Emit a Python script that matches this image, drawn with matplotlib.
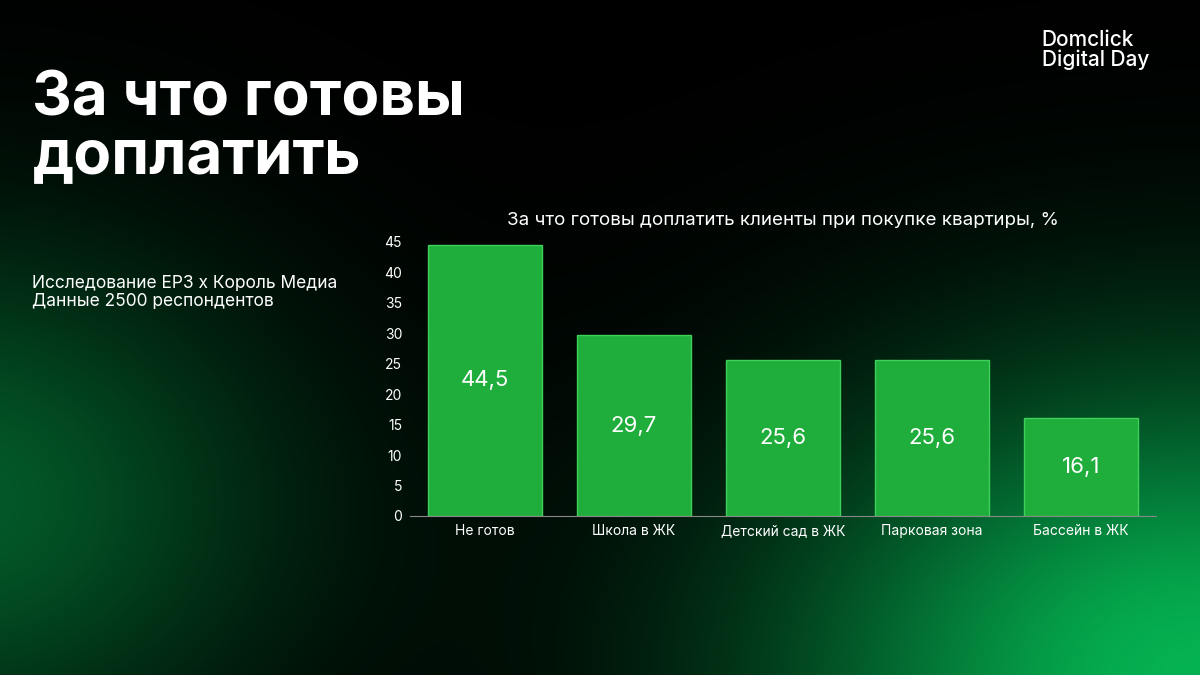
import numpy as np
import matplotlib.pyplot as plt

categories = ["Не готов", "Школа в ЖК", "Детский сад в ЖК", "Парковая зона", "Бассейн в ЖК"]
values = [44.5, 29.7, 25.6, 25.6, 16.1]
labels = ["44,5", "29,7", "25,6", "25,6", "16,1"]

plt.rcParams['font.family'] = ['Inter', 'DejaVu Sans']

fig = plt.figure(figsize=(12, 6.75), dpi=100)

# background glow
bg = fig.add_axes([0, 0, 1, 1])
h, w = 675, 1200
yy, xx = np.mgrid[0:h, 0:w]
g1 = np.exp(-(((xx - 1200) / 420.0) ** 2 + ((yy - 675) / 300.0) ** 2))
g2 = np.exp(-(((xx + 50) / 330.0) ** 2 + ((yy - 500) / 260.0) ** 2)) * 0.5
g = np.clip(g1 + g2, 0, 1)
img = np.zeros((h, w, 3))
img[..., 0] = 0.02 * g
img[..., 1] = 0.70 * g
img[..., 2] = 0.32 * g
bg.imshow(img, aspect='auto', extent=(0, 1, 0, 1), origin='upper')
bg.axis('off')

fig.text(0.027, 0.81, "За что готовы\nдоплатить", color='white', fontsize=44.5,
         fontweight='bold', va='center', linespacing=1.0)
fig.text(0.868, 0.926, "Domclick\nDigital Day", color='white', fontsize=15,
         fontweight='medium', va='center', linespacing=1.0)
fig.text(0.027, 0.567, "Исследование ЕРЗ x Король Медиа\nДанные 2500 респондентов",
         color='white', fontsize=12.5, va='center', linespacing=1.1)

ax = fig.add_axes([0.342, 0.2356, 0.621, 0.406])
ax.set_facecolor('none')
x = np.arange(len(categories))
ax.bar(x, values, width=0.77, color='#1fae3c', edgecolor='#3fd05a', linewidth=1)
for xi, v, lab in zip(x, values, labels):
    ax.text(xi, v / 2, lab, color='white', fontsize=16, ha='center', va='center')
ax.set_xlim(-0.5, 4.5)
ax.set_ylim(0, 45)
ax.set_yticks(range(0, 46, 5))
ax.set_xticks(x)
ax.set_xticklabels(categories)
ax.tick_params(colors='white', labelsize=10, length=0, pad=6)
for s in ['top', 'right', 'left']:
    ax.spines[s].set_visible(False)
ax.spines['bottom'].set_color('#888888')
ax.set_title("За что готовы доплатить клиенты при покупке квартиры, %",
             color='white', fontsize=13.5, pad=12)

fig.savefig("out.png", dpi=100)
